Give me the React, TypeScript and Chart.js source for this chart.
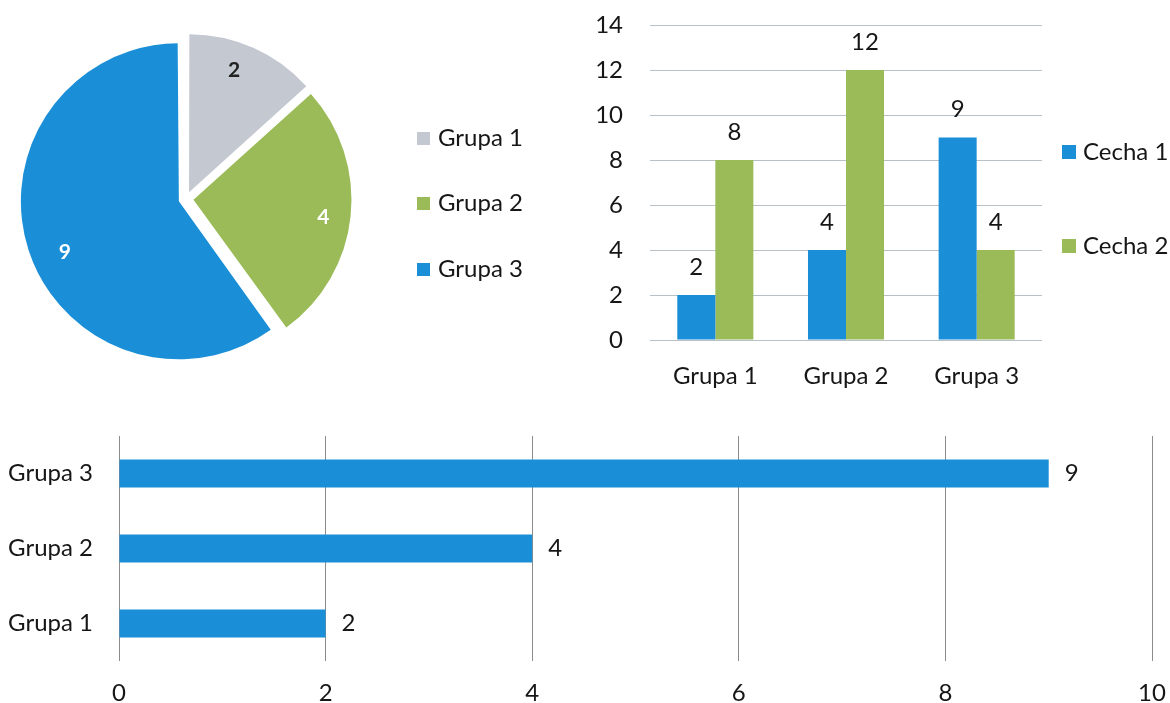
import React, { useEffect, useRef } from 'react';
import { Chart, registerables } from 'chart.js';

Chart.register(...registerables);

// ---------- data ----------
const groups = ['Grupa 1', 'Grupa 2', 'Grupa 3'];
const pieValues = [2, 4, 9];
const featureNames = ['Cecha 1', 'Cecha 2'];
const feature1Values = [2, 4, 9];
const feature2Values = [8, 12, 4];
const hbarValues = [2, 4, 9];
const topAxisMax = 14;
const topAxisStep = 2;
const bottomAxisMax = 10;
const bottomAxisStep = 2;

// ---------- style ----------
const BLUE = '#1a8fd7';
const GREEN = '#9bbb59';
const GREY = '#c3c8d1';
const TEXT = '#161616';
const FONT_FAMILY = 'Lato, "Open Sans", sans-serif';

Chart.defaults.font.family = FONT_FAMILY;
Chart.defaults.font.size = 24;
Chart.defaults.color = TEXT;

// keep exploded slices at the same radius (Chart.js enlarges big slices by offset)
const flatOffset = {
  id: 'flatOffset',
  afterDatasetUpdate(chart: any, args: any) {
    const meta = args.meta;
    meta.data.forEach((el: any) => {
      const off = ((el.options && el.options.offset) || 0) / 4;
      const fix = 1 - Math.sin(Math.min(Math.PI, el.circumference || 0));
      el.outerRadius = Math.max(el.outerRadius - off * fix, 0);
    });
  },
};

const sideLegend = {
  id: 'sideLegend',
  afterDraw(chart: any, _args: any, opts: any) {
    if (!opts || opts.x === undefined) return;
    const ctx = chart.ctx;
    let items: any[] = [];
    try {
      items = chart.options.plugins.legend.labels.generateLabels(chart);
    } catch (e) {
      items = [];
    }
    ctx.save();
    ctx.font = opts.font;
    ctx.textBaseline = 'middle';
    ctx.textAlign = 'left';
    items.forEach((item: any, i: number) => {
      const y = opts.y + i * opts.spacing;
      ctx.fillStyle = item.fillStyle;
      ctx.fillRect(opts.x, Math.round(y - opts.box / 2), opts.box, opts.box);
      ctx.fillStyle = opts.color;
      ctx.fillText(item.text, opts.x + opts.box + opts.gap, y);
    });
    ctx.restore();
  },
};

const valueLabels = {
  id: 'valueLabels',
  afterDatasetsDraw(chart: any, _args: any, opts: any) {
    if (!opts || opts.gap === undefined) return;
    const ctx = chart.ctx;
    const horizontal = chart.options.indexAxis === 'y';
    ctx.save();
    ctx.font = opts.font;
    ctx.fillStyle = opts.color;
    ctx.textBaseline = 'middle';
    chart.data.datasets.forEach((ds: any, di: number) => {
      const meta = chart.getDatasetMeta(di);
      meta.data.forEach((el: any, i: number) => {
        const v = ds.data[i];
        if (horizontal) {
          ctx.textAlign = 'left';
          ctx.fillText(String(v), el.x + opts.gap, el.y);
        } else {
          ctx.textAlign = 'center';
          ctx.fillText(String(v), el.x, el.y - opts.gap);
        }
      });
    });
    ctx.restore();
  },
};

const pieLabels = {
  id: 'pieLabels',
  afterDatasetsDraw(chart: any, _args: any, opts: any) {
    if (!opts || opts.ratio === undefined) return;
    const ctx = chart.ctx;
    const meta = chart.getDatasetMeta(0);
    const ds = chart.data.datasets[0];
    ctx.save();
    ctx.font = opts.font;
    ctx.textAlign = 'center';
    ctx.textBaseline = 'middle';
    meta.data.forEach((el: any, i: number) => {
      const mid = (el.startAngle + el.endAngle) / 2 + (opts.turn ? opts.turn[i] : 0);
      const off = (ds.offset || 0) / 4;
      const r = el.outerRadius * opts.ratio + off;
      ctx.fillStyle = opts.colors[i];
      ctx.fillText(String(ds.data[i]), el.x + Math.cos(mid) * r, el.y + Math.sin(mid) * r);
    });
    ctx.restore();
  },
};

function ChartCanvas(props: { left: number; top: number; width: number; height: number; build: () => any }) {
  const ref = useRef<HTMLCanvasElement | null>(null);
  useEffect(() => {
    if (!ref.current) return;
    const chart = new Chart(ref.current, props.build());
    return () => chart.destroy();
  }, []);
  return (
    <canvas
      ref={ref}
      width={props.width}
      height={props.height}
      style={{ position: 'absolute', left: props.left, top: props.top, width: props.width, height: props.height }}
    />
  );
}

const pieConfig = () => ({
  type: 'pie',
  data: {
    labels: groups,
    datasets: [
      {
        data: pieValues,
        backgroundColor: [GREY, GREEN, BLUE],
        borderWidth: 0,
        offset: 30,
      },
    ],
  },
  options: {
    responsive: false,
    animation: false,
    events: [],
    radius: 158,
    layout: { padding: { left: 0, top: 0, right: 188, bottom: 0 } },
    plugins: {
      legend: { display: false },
      tooltip: { enabled: false },
      sideLegend: { x: 417, y: 138, spacing: 65.5, box: 13, gap: 8, font: `24px ${FONT_FAMILY}`, color: TEXT },
      pieLabels: {
        ratio: 0.83,
        turn: [-0.06, 0.03, -0.1],
        font: `bold 21px ${FONT_FAMILY}`,
        colors: ['#222222', '#ffffff', '#ffffff'],
      },
    },
  },
  plugins: [flatOffset, sideLegend, pieLabels],
});

const groupedConfig = () => ({
  type: 'bar',
  data: {
    labels: groups,
    datasets: [
      { label: featureNames[0], data: feature1Values, backgroundColor: BLUE },
      { label: featureNames[1], data: feature2Values, backgroundColor: GREEN },
    ],
  },
  options: {
    responsive: false,
    animation: false,
    events: [],
    layout: { padding: { left: 0, top: 25, right: 128, bottom: 0 } },
    datasets: { bar: { categoryPercentage: 0.582, barPercentage: 1 } },
    scales: {
      x: {
        grid: { display: false, drawTicks: false },
        border: { display: false },
        ticks: { padding: 22, color: TEXT, font: { size: 24 } },
        afterFit: (s: any) => {
          s.height = 60;
          s.paddingLeft = 0;
          s.paddingRight = 0;
        },
      },
      y: {
        min: 0,
        max: topAxisMax,
        ticks: { stepSize: topAxisStep, padding: 27, color: TEXT, font: { size: 24 } },
        grid: { color: '#b7c1c7', drawTicks: false, lineWidth: 1 },
        border: { display: false },
        afterFit: (s: any) => {
          s.width = 70;
          s.paddingTop = 0;
          s.paddingBottom = 0;
        },
      },
    },
    plugins: {
      legend: { display: false },
      tooltip: { enabled: false },
      sideLegend: { x: 482, y: 152, spacing: 94, box: 14, gap: 7, font: `24px ${FONT_FAMILY}`, color: TEXT },
      valueLabels: { gap: 28, font: `24px ${FONT_FAMILY}`, color: TEXT },
    },
  },
  plugins: [sideLegend, valueLabels],
});

const hbarConfig = () => ({
  type: 'bar',
  data: {
    labels: groups,
    datasets: [{ label: 'Wartość', data: hbarValues, backgroundColor: BLUE }],
  },
  options: {
    indexAxis: 'y',
    responsive: false,
    animation: false,
    events: [],
    layout: { padding: { left: 0, top: 16, right: 18, bottom: 0 } },
    datasets: { bar: { categoryPercentage: 1, barPercentage: 0.373 } },
    scales: {
      x: {
        min: 0,
        max: bottomAxisMax,
        ticks: { stepSize: bottomAxisStep, padding: 18, color: TEXT, font: { size: 24 } },
        grid: { color: '#8c8c8c', drawTicks: false, lineWidth: 1 },
        border: { display: false },
        afterFit: (s: any) => {
          s.height = 42;
          s.paddingLeft = 0;
          s.paddingRight = 0;
        },
      },
      y: {
        reverse: true,
        grid: { display: false, drawTicks: false },
        border: { display: false },
        ticks: { padding: 26, color: TEXT, font: { size: 24 } },
        afterFit: (s: any) => {
          s.width = 119;
          s.paddingTop = 0;
          s.paddingBottom = 0;
        },
      },
    },
    plugins: {
      legend: { display: false },
      tooltip: { enabled: false },
      valueLabels: { gap: 16, font: `24px ${FONT_FAMILY}`, color: TEXT },
    },
  },
  plugins: [valueLabels],
});

export default function App() {
  return (
    <div
      style={{
        position: 'absolute',
        left: 0,
        top: 0,
        width: 1170,
        height: 703,
        overflow: 'hidden',
        background: '#ffffff',
      }}
    >
      <ChartCanvas left={0} top={0} width={560} height={398} build={pieConfig} />
      <ChartCanvas left={580} top={0} width={590} height={400} build={groupedConfig} />
      <ChartCanvas left={0} top={420} width={1170} height={283} build={hbarConfig} />
    </div>
  );
}
